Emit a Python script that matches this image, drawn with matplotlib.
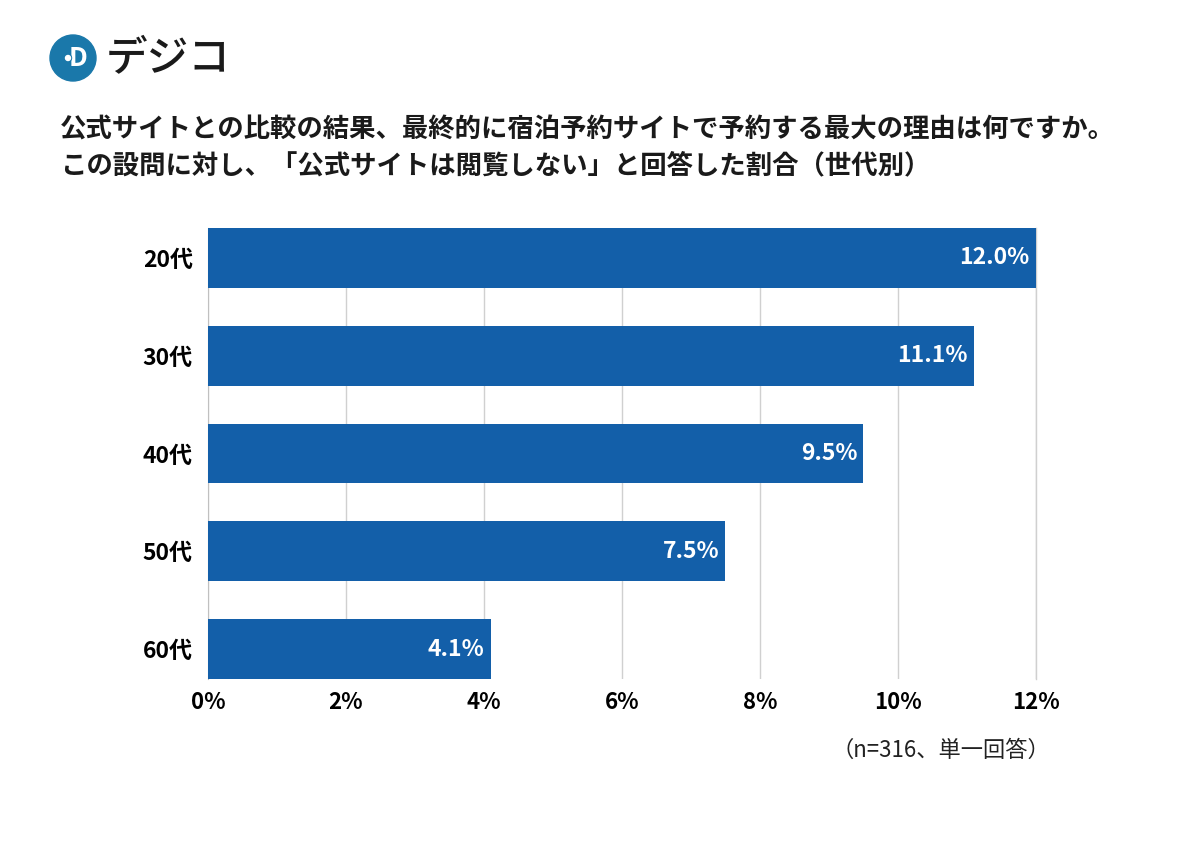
import matplotlib.pyplot as plt
import numpy as np
from matplotlib.patches import Circle

plt.rcParams['font.family'] = ['Noto Sans CJK JP', 'DejaVu Sans']

# データ
ages = ['20代', '30代', '40代', '50代', '60代']
values = [12.0, 11.1, 9.5, 7.5, 4.1]
xticks = [0, 2, 4, 6, 8, 10, 12]

title_lines = ['公式サイトとの比較の結果、最終的に宿泊予約サイトで予約する最大の理由は何ですか。',
               'この設問に対し、「公式サイトは閲覧しない」と回答した割合（世代別）']
note = '（n=316、単一回答）'

fig = plt.figure(figsize=(12, 8.49), dpi=100)
ax = fig.add_axes([0.1733, 0.2003, 0.69, 0.5311])

y = np.arange(len(ages))
bar_color = '#135fa9'
ax.barh(y, values, height=0.61, color=bar_color, zorder=3)

for yi, v in zip(y, values):
    ax.text(v - 0.09, yi, f'{v:.1f}%', color='white', fontsize=16.5, fontweight='bold',
            ha='right', va='center', zorder=4)

ax.set_xlim(0, 12)
ax.set_ylim(len(ages) - 1 + 0.305, -0.305)
ax.set_xticks(xticks)
ax.set_xticklabels([f'{t}%' for t in xticks], fontsize=16, fontweight='bold')
ax.set_yticks(y)
ax.set_yticklabels(ages, fontsize=16.5, fontweight='bold')
ax.tick_params(axis='x', length=0, pad=9)
ax.tick_params(axis='y', length=0, pad=11)

ax.grid(axis='x', color='#d0d0d0', linewidth=1, zorder=0)
ax.axvline(12, color='#d0d0d0', linewidth=1, zorder=0, clip_on=False)
for s in ['top', 'right', 'bottom']:
    ax.spines[s].set_visible(False)
ax.spines['left'].set_color('#c0c0c0')

# タイトル
fig.text(0.05, 1 - 130 / 849, title_lines[0], fontsize=19, fontweight='bold',
         ha='left', va='center', color='#1a1a1a')
fig.text(0.05, 1 - 166 / 849, title_lines[1], fontsize=19, fontweight='bold',
         ha='left', va='center', color='#1a1a1a')

# 注記
fig.text(1050 / 1200, 1 - 750 / 849, note, fontsize=16, ha='right', va='center', color='#222222')

# ロゴ
logo_ax = fig.add_axes([0, 1 - 100 / 849, 250 / 1200, 100 / 849])
logo_ax.set_xlim(0, 250)
logo_ax.set_ylim(100, 0)
logo_ax.axis('off')
logo_ax.add_patch(Circle((73, 58), 23, color='#1a78aa'))
logo_ax.text(78, 58, 'D', color='white', fontsize=19, fontweight='bold', ha='center', va='center')
logo_ax.add_patch(Circle((68, 58), 3.5, color='#1a78aa', zorder=3))
logo_ax.add_patch(Circle((68, 58), 2.5, color='white', zorder=4))
logo_ax.text(106, 59, 'デジコ', fontsize=30, fontweight='medium', ha='left', va='center', color='#1a1a1a')

fig.savefig('out.png', dpi=100, facecolor='white')
